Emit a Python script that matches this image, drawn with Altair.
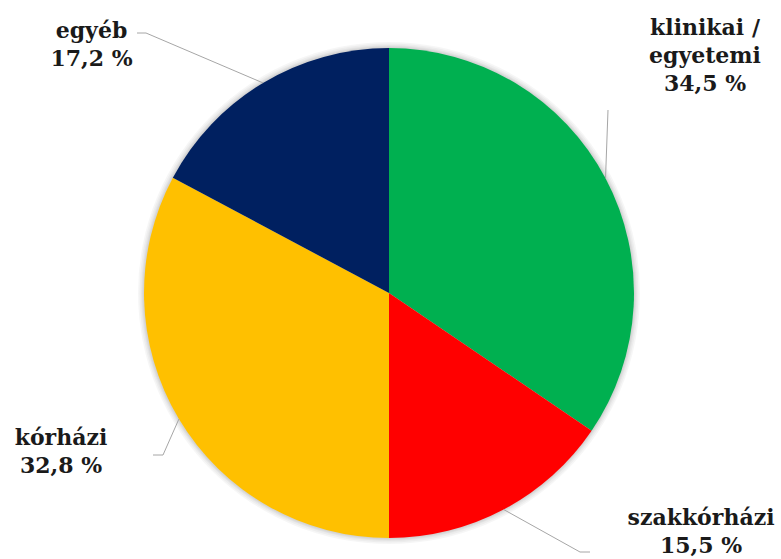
import altair as alt
import pandas as pd
import numpy as np

# ---- data -------------------------------------------------------------
categories = ["klinikai /\negyetemi", "szakkórházi", "kórházi", "egyéb"]
shares = [34.5, 15.5, 32.8, 17.2]
colors = ["#00B050", "#FF0000", "#FFC000", "#002060"]

# ---- layout (pixels) ---------------------------------------------------
R = 245.0                       # pie radius
W, H = 778, 532                 # plot area; pie sits at its centre
PAD = {"left": 0, "right": 3, "top": 27, "bottom": 0}
FONT = "DejaVu Serif"
FS = 22
LH = 28

# first-line baseline of each label and leader-line elbow/end points, offsets from pie centre
label_xy = [(316, -258.5), (312, 232), (-328, 152), (-297.5, -255.5)]
leader_pts = [
    [(219, -183)],
    [(191, 259), (201, 259)],
    [(-226, 162), (-236, 162)],
    [(-243, -260), (-252, -260)],
]

def fmt(v):
    return f"{v:.1f}".replace(".", ",") + " %"

df = pd.DataFrame({
    "cat": categories,
    "share": shares,
    "order": list(range(len(categories))),
})
df["label"] = [c + "\n" + fmt(v) for c, v in zip(categories, shares)]
cum = np.cumsum(shares)
mid = (cum - np.array(shares) / 2) / sum(shares) * 2 * np.pi
df["mx"] = np.sin(mid)
df["my"] = np.cos(mid)

lab = pd.DataFrame({
    "label": df["label"],
    "x": [p[0] / R for p in label_xy],
    "y": [-p[1] / R for p in label_xy],
})

rows = []
for i, c in enumerate(categories):
    rows.append({"cat": c, "seq": 0, "x": df["mx"][i], "y": df["my"][i]})
    for j, (px, py) in enumerate(leader_pts[i]):
        rows.append({"cat": c, "seq": j + 1, "x": px / R, "y": -py / R})
lines = pd.DataFrame(rows)

xs = alt.Scale(domain=[-(W / 2) / R, (W / 2) / R], nice=False, zero=False)
ys = alt.Scale(domain=[-(H / 2) / R, (H / 2) / R], nice=False, zero=False)
noax = None

# soft glow around the pie
shadow_layers = [
    alt.Chart(pd.DataFrame({"v": [1]})).mark_arc(
        outerRadius=R + k, color="#000000", opacity=0.035
    ).encode(theta=alt.Theta("v:Q", stack=True))
    for k in [6, 4.5, 3, 2, 1]
]

pie = alt.Chart(df).mark_arc(outerRadius=R).encode(
    theta=alt.Theta("share:Q", stack=True),
    color=alt.Color("cat:N", scale=alt.Scale(domain=categories, range=colors), legend=None),
    order=alt.Order("order:Q"),
)

leaders = alt.Chart(lines).mark_line(color="#A6A6A6", strokeWidth=1).encode(
    x=alt.X("x:Q", scale=xs, axis=noax),
    y=alt.Y("y:Q", scale=ys, axis=noax),
    detail="cat:N",
    order="seq:Q",
)

texts = alt.Chart(lab).mark_text(
    font=FONT, fontWeight="bold", fontSize=FS, lineBreak="\n", lineHeight=LH,
    align="center", baseline="alphabetic", color="#1A1A1A",
).encode(
    x=alt.X("x:Q", scale=xs, axis=noax),
    y=alt.Y("y:Q", scale=ys, axis=noax),
    text="label:N",
)

chart = alt.layer(*shadow_layers, pie, leaders, texts).resolve_scale(
    theta="independent"
).properties(
    width=W, height=H, padding=PAD, autosize=alt.AutoSizeParams(type="none"),
    background="#FFFFFF",
).configure_view(strokeWidth=0)

chart.save("out.html", embed_options={"renderer": "svg", "actions": False})
